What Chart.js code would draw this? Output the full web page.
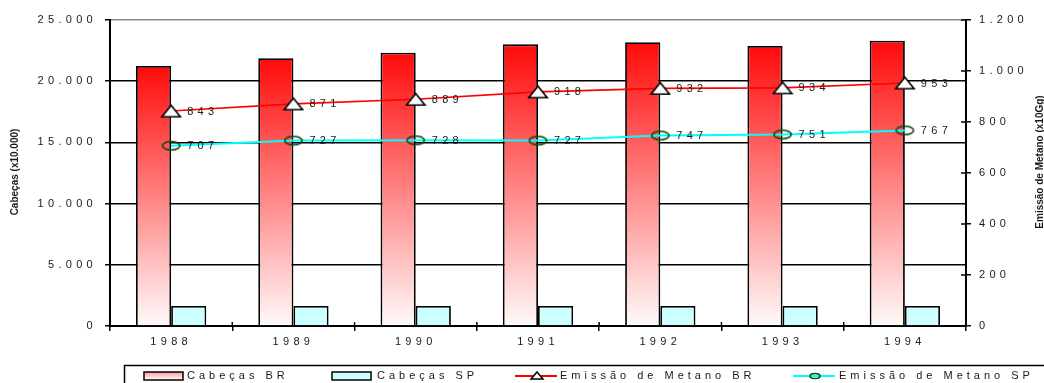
<!DOCTYPE html>
<html>
<head>
<meta charset="utf-8">
<script src="https://cdn.jsdelivr.net/npm/chart.js@4/dist/chart.umd.min.js"></script>
<style>
  html, body { margin: 0; padding: 0; background: #fff; overflow: hidden; }
  #wrap { width: 1044px; height: 383px; position: relative; }
  canvas { display: block; }
</style>
</head>
<body>
<div id="wrap"><canvas id="c" width="1044" height="383"></canvas></div>
<script>
// Rebanho (cabeças x10.000) e emissão de metano (x10Gg), 1988-1994
const years      = ['1988', '1989', '1990', '1991', '1992', '1993', '1994'];
const cabecasBR  = [21240, 21870, 22330, 23010, 23180, 22880, 23310];
const cabecasSP  = [1630, 1630, 1630, 1630, 1630, 1630, 1630];
const metanoBR   = [843, 871, 889, 918, 932, 934, 953];
const metanoSP   = [707, 727, 728, 727, 747, 751, 767];
const leftTicks  = [0, 5000, 10000, 15000, 20000, 25000];
const rightTicks = [0, 200, 400, 600, 800, 1000, 1200];
const seriesNames = ['Cabeças BR', 'Cabeças SP', 'Emissão de Metano BR', 'Emissão de Metano SP'];
const axisTitles  = ['Cabeças (x10.000)', 'Emissão de Metano (x10Gg)'];

const FONT = '"Liberation Sans", Arial, sans-serif';
const TEXT = '#1a1a1a';
const SPACING = '4.3px';
const LEGEND_SPACING = '4px';

// thousands separator with a dot
const fmt = v => String(v).replace(/\B(?=(\d{3})+(?!\d))/g, '.');

// marker images
function triangleMarker(w, h, lw) {
  const c = document.createElement('canvas');
  c.width = w + 2; c.height = h + 2;
  const g = c.getContext('2d');
  g.beginPath();
  g.moveTo(c.width / 2, 1 + lw / 2);
  g.lineTo(c.width - 1 - lw / 2, c.height - 1 - lw / 2);
  g.lineTo(1 + lw / 2, c.height - 1 - lw / 2);
  g.closePath();
  g.fillStyle = '#fff'; g.fill();
  g.lineWidth = lw; g.strokeStyle = '#000'; g.stroke();
  return c;
}
function ellipseMarker(w, h, lw, color) {
  const c = document.createElement('canvas');
  c.width = w + 2; c.height = h + 2;
  const g = c.getContext('2d');
  g.beginPath();
  g.ellipse(c.width / 2, c.height / 2, w / 2 - lw / 2, h / 2 - lw / 2, 0, 0, Math.PI * 2);
  g.lineWidth = lw; g.strokeStyle = color; g.stroke();
  return c;
}
const triBig = triangleMarker(20, 13, 1.6);
const ellBig = ellipseMarker(19, 10, 1.6, '#0b4a0b');

// red-to-white fill running down each bar
function barGradient(ctx) {
  const chart = ctx.chart;
  if (!chart.chartArea || ctx.type !== 'data') return '#ff8080';
  const y = chart.scales.y;
  const top = y.getPixelForValue(ctx.raw);
  const bot = y.getPixelForValue(0);
  const g = chart.ctx.createLinearGradient(0, top, 0, bot);
  g.addColorStop(0, '#ff0a0a');
  g.addColorStop(1, '#fffafa');
  return g;
}

// spaced-out lettering for the chart's text
const letterSpacing = {
  id: 'letterSpacing',
  beforeLayout(chart) { chart.ctx.letterSpacing = SPACING; },
  beforeDraw(chart) { chart.ctx.letterSpacing = SPACING; }
};

// small tick marks crossing into the plot on the right and bottom axes
const innerTicks = {
  id: 'innerTicks',
  afterDatasetsDraw(chart) {
    const { ctx, chartArea: a } = chart;
    const r = chart.scales.y1, x = chart.scales.x;
    ctx.save();
    ctx.strokeStyle = '#000';
    ctx.lineWidth = 1.5;
    ctx.beginPath();
    rightTicks.forEach(v => {
      const py = r.getPixelForValue(v);
      ctx.moveTo(a.right - 5, py); ctx.lineTo(a.right, py);
    });
    for (let i = 1; i < years.length; i++) {
      const px = (x.getPixelForValue(i - 1) + x.getPixelForValue(i)) / 2;
      ctx.moveTo(px, a.bottom - 4); ctx.lineTo(px, a.bottom);
    }
    ctx.stroke();
    ctx.restore();
  }
};

// value labels beside the line points
const pointLabels = {
  id: 'pointLabels',
  afterDatasetsDraw(chart) {
    const ctx = chart.ctx;
    ctx.save();
    ctx.font = '11px ' + FONT;
    ctx.letterSpacing = SPACING;
    ctx.fillStyle = TEXT;
    ctx.textAlign = 'left';
    ctx.textBaseline = 'middle';
    chart.data.datasets.forEach((ds, i) => {
      if (ds.type !== 'line') return;
      chart.getDatasetMeta(i).data.forEach((pt, j) => {
        ctx.fillText(String(ds.data[j]), pt.x + 16, pt.y + 0.5);
      });
    });
    ctx.restore();
  }
};

// rotated axis titles
const axisTitleText = {
  id: 'axisTitleText',
  afterDraw(chart) {
    const ctx = chart.ctx;
    ctx.save();
    ctx.letterSpacing = '0px';
    ctx.font = 'bold 10px ' + FONT;
    ctx.fillStyle = TEXT;
    ctx.textAlign = 'center';
    ctx.textBaseline = 'middle';
    [[15, 172, axisTitles[0]], [1040, 162, axisTitles[1]]].forEach(([x, y, t]) => {
      ctx.save();
      ctx.translate(x, y);
      ctx.rotate(-Math.PI / 2);
      ctx.fillText(t, 0, 0);
      ctx.restore();
    });
    ctx.restore();
  }
};

// boxed legend along the bottom edge
const boxLegend = {
  id: 'boxLegend',
  afterDraw(chart) {
    const ctx = chart.ctx;
    const starts = [144, 332, 515, 793];
    const cy = 376;
    ctx.save();
    ctx.lineWidth = 1.5;
    ctx.strokeStyle = '#000';
    ctx.strokeRect(124.5, 365.5, 940, 40);

    ctx.font = '11px ' + FONT;
    ctx.letterSpacing = LEGEND_SPACING;
    ctx.fillStyle = TEXT;
    ctx.textBaseline = 'middle';
    ctx.textAlign = 'left';

    // bar swatches
    const g = ctx.createLinearGradient(0, cy - 4, 0, cy + 4);
    g.addColorStop(0, '#ff9a9a'); g.addColorStop(1, '#ffffff');
    [[starts[0], g], [starts[1], '#ccffff']].forEach(([x, fill]) => {
      ctx.fillStyle = fill;
      ctx.fillRect(x, cy - 4, 39, 8);
      ctx.lineWidth = 1.5;
      ctx.strokeRect(x, cy - 4, 39, 8);
    });
    // line swatches
    [[starts[2], '#ff0000', 'tri'], [starts[3], '#00ffff', 'ell']].forEach(([x, col, m]) => {
      ctx.strokeStyle = col;
      ctx.lineWidth = 2;
      ctx.beginPath(); ctx.moveTo(x, cy); ctx.lineTo(x + 42, cy); ctx.stroke();
      const mx = x + 22;
      ctx.lineWidth = 1.5;
      if (m === 'tri') {
        ctx.beginPath();
        ctx.moveTo(mx, cy - 4); ctx.lineTo(mx + 6, cy + 3); ctx.lineTo(mx - 6, cy + 3); ctx.closePath();
        ctx.fillStyle = '#fff'; ctx.fill();
        ctx.strokeStyle = '#000'; ctx.stroke();
      } else {
        ctx.beginPath();
        ctx.ellipse(mx, cy, 5, 2.5, 0, 0, Math.PI * 2);
        ctx.strokeStyle = '#0b4a0b'; ctx.stroke();
      }
      ctx.strokeStyle = '#000';
    });

    ctx.fillStyle = TEXT;
    const textX = [starts[0] + 43, starts[1] + 45, starts[2] + 45, starts[3] + 46];
    seriesNames.forEach((t, i) => ctx.fillText(t, textX[i], cy));
    ctx.restore();
  }
};

Chart.defaults.font.family = FONT;
Chart.defaults.font.size = 11;
Chart.defaults.color = TEXT;

new Chart(document.getElementById('c'), {
  data: {
    labels: years,
    datasets: [
      {
        type: 'bar', label: seriesNames[0], data: cabecasBR, yAxisID: 'y', order: 2,
        backgroundColor: barGradient, borderColor: '#000', borderWidth: 1.8, borderSkipped: 'bottom'
      },
      {
        type: 'bar', label: seriesNames[1], data: cabecasSP, yAxisID: 'y', order: 2,
        backgroundColor: '#ccffff', borderColor: '#000', borderWidth: 1.8, borderSkipped: 'bottom'
      },
      {
        type: 'line', label: seriesNames[2], data: metanoBR, yAxisID: 'y1', order: 1,
        borderColor: '#ff0000', borderWidth: 1.6, tension: 0, fill: false,
        pointStyle: triBig, pointRadius: 10
      },
      {
        type: 'line', label: seriesNames[3], data: metanoSP, yAxisID: 'y1', order: 1,
        borderColor: '#00ffff', borderWidth: 2, tension: 0, fill: false,
        pointStyle: ellBig, pointRadius: 10
      }
    ]
  },
  options: {
    responsive: false,
    maintainAspectRatio: false,
    animation: false,
    devicePixelRatio: 1,
    layout: { padding: { top: 20, left: 0, right: 0, bottom: 0 } },
    datasets: { bar: { barPercentage: 1, categoryPercentage: 0.575 } },
    plugins: { legend: { display: false }, tooltip: { enabled: false } },
    scales: {
      x: {
        type: 'category',
        offset: true,
        grid: { display: true, drawOnChartArea: false, offset: true, color: '#000', lineWidth: 1.5, tickLength: 5 },
        border: { display: true, color: '#000', width: 2 },
        ticks: { padding: 4, maxRotation: 0, autoSkip: false, font: { size: 11 } },
        afterFit(s) { s.height = 57; }
      },
      y: {
        position: 'left',
        min: 0, max: 25000,
        afterBuildTicks(s) { s.ticks = leftTicks.map(v => ({ value: v })); },
        grid: {
          color: c => (c.tick && c.tick.value === 25000 ? '#8a8a8a' : '#000'),
          tickColor: '#000',
          lineWidth: 1.5,
          tickLength: 5
        },
        border: { display: true, color: '#000', width: 2 },
        ticks: { padding: 8, callback: v => fmt(v), font: { size: 11 } },
        afterFit(s) { s.width = 110; }
      },
      y1: {
        position: 'right',
        min: 0, max: 1200,
        afterBuildTicks(s) { s.ticks = rightTicks.map(v => ({ value: v })); },
        grid: { drawOnChartArea: false, color: '#000', lineWidth: 1.5, tickLength: 5 },
        border: { display: true, color: '#000', width: 2 },
        ticks: { padding: 8, callback: v => fmt(v), font: { size: 11 } },
        afterFit(s) { s.width = 78; }
      }
    }
  },
  plugins: [letterSpacing, innerTicks, pointLabels, axisTitleText, boxLegend]
});
</script>
</body>
</html>
